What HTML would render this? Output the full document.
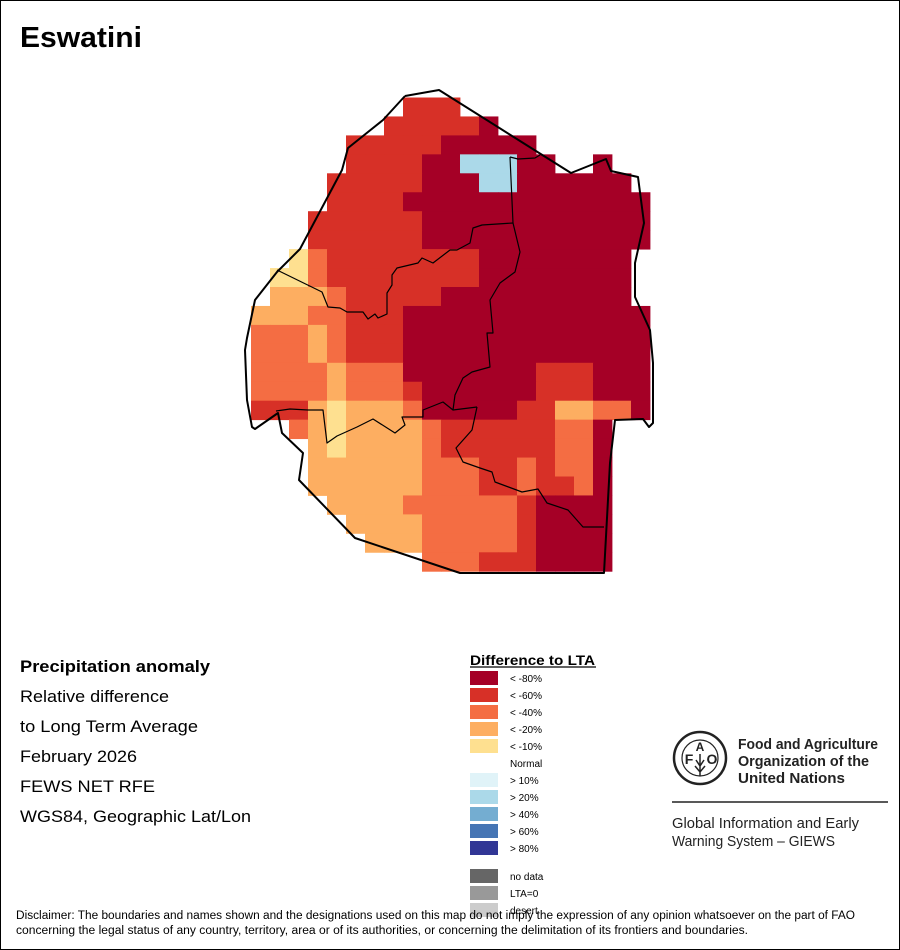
<!DOCTYPE html>
<html><head><meta charset="utf-8"><style>
html,body{margin:0;padding:0;background:#fff}
svg{display:block}
text{font-family:"Liberation Sans",Arial,sans-serif}
</style></head><body>
<svg id="s" width="900" height="950" viewBox="0 0 900 950" xmlns="http://www.w3.org/2000/svg">
<rect x="0.5" y="0.5" width="899" height="949" fill="#fff" stroke="#000" stroke-width="1"/>
<text x="20" y="47" font-size="29" font-weight="bold" textLength="122" lengthAdjust="spacingAndGlyphs">Eswatini</text>
<g id="grid"></g>
<g fill="none" stroke="#000" stroke-linejoin="round">
<polyline stroke-width="2" points="405,96 439,90 571,173 606,159 611,171 638,177 644,223 635,263 635,297 650,330 653,363 653,423 649,427 643,419 615,420 610,463 604,573 460,573 355,538 299,480 303,453 282,433 278,413 255,429 252,427 247,400 245,350 247,338 255,300 277,272 300,249 342,170 348,148 383,120 405,96"/>
<polyline stroke-width="1.2" points="510,157 518,159 535,158 540,155"/>
<polyline stroke-width="1.2" points="510,157 513,223 520,252 515,272 500,283 490,300 493,333 487,333 490,367 472,372 463,378 455,395 453,410"/>
<polyline stroke-width="1.2" points="513,223 482,225 473,228 470,243 457,250 450,250 433,263 422,258 418,263 397,268 392,275 392,285 387,293 387,314 378,318 375,314 368,319 363,312 347,312 340,308 328,307 322,292 277,270"/>
<polyline stroke-width="1.2" points="477,407 453,410 443,402 423,410 423,417 402,417 405,425 395,433 373,419 357,427 337,436 327,443 323,410 308,410 290,409 276,411"/>
<polyline stroke-width="1.2" points="477,407 472,430 456,448 463,462 480,468 492,472 495,482 522,492 538,489 547,503 568,510 583,527 604,527"/>
</g>
<text x="20" y="672" font-size="17" font-weight="bold" textLength="190" lengthAdjust="spacingAndGlyphs">Precipitation anomaly</text>
<text x="20" y="702" font-size="17" textLength="149" lengthAdjust="spacingAndGlyphs">Relative difference</text>
<text x="20" y="732" font-size="17" textLength="178" lengthAdjust="spacingAndGlyphs">to Long Term Average</text>
<text x="20" y="762" font-size="17" textLength="117" lengthAdjust="spacingAndGlyphs">February 2026</text>
<text x="20" y="792" font-size="17" textLength="135" lengthAdjust="spacingAndGlyphs">FEWS NET RFE</text>
<text x="20" y="822" font-size="17" textLength="231" lengthAdjust="spacingAndGlyphs">WGS84, Geographic Lat/Lon</text>
<text x="470" y="665" font-size="14" font-weight="bold" textLength="125" lengthAdjust="spacingAndGlyphs">Difference to LTA</text>
<line x1="470" y1="667" x2="596" y2="667" stroke="#000" stroke-width="1.3"/>
<g id="leg" font-size="10"></g>
<g transform="translate(672,730)">
<circle cx="28" cy="28" r="26" fill="none" stroke="#222" stroke-width="2.5"/>
<circle cx="28" cy="28" r="18" fill="none" stroke="#222" stroke-width="1.2"/>
<text x="17" y="34" font-size="14" font-weight="bold" text-anchor="middle" fill="#222">F</text>
<text x="28" y="21" font-size="12" font-weight="bold" text-anchor="middle" fill="#222">A</text>
<text x="40" y="34" font-size="14" font-weight="bold" text-anchor="middle" fill="#222">O</text>
<path d="M28 24 L28 46 M24 30 L28 36 L32 30 M23 36 L28 42 L33 36" stroke="#222" stroke-width="1.5" fill="none"/>
<text x="66" y="19" font-size="14.5" font-weight="bold" fill="#222" textLength="140" lengthAdjust="spacingAndGlyphs">Food and Agriculture</text>
<text x="66" y="36" font-size="14.5" font-weight="bold" fill="#222" textLength="131" lengthAdjust="spacingAndGlyphs">Organization of the</text>
<text x="66" y="53" font-size="14.5" font-weight="bold" fill="#222" textLength="107" lengthAdjust="spacingAndGlyphs">United Nations</text>
</g>
<line x1="672" y1="802" x2="888" y2="802" stroke="#222" stroke-width="1.5"/>
<text x="672" y="828" font-size="14.5" fill="#222" textLength="187" lengthAdjust="spacingAndGlyphs">Global Information and Early</text>
<text x="672" y="846" font-size="14.5" fill="#222" textLength="163" lengthAdjust="spacingAndGlyphs">Warning System – GIEWS</text>
<text x="16" y="919" font-size="11.5" textLength="839" lengthAdjust="spacingAndGlyphs">Disclaimer: The boundaries and names shown and the designations used on this map do not imply the expression of any opinion whatsoever on the part of FAO</text>
<text x="16" y="934" font-size="11.5" textLength="732" lengthAdjust="spacingAndGlyphs">concerning the legal status of any country, territory, area or of its authorities, or concerning the delimitation of its frontiers and boundaries.</text>
</svg>
<script>
var C={D:"#a50026",R:"#d73027",O:"#f46d43",L:"#fdae61",Y:"#fee090",B:"#abd9e9"};
var rows=["........RRR..........",".......RRRRRD........",".....RRRRRDDDDD......",".....RRRRDDBBBDD..D..","....RRRRRDDDBBDDDDDD.","....RRRRDDDDDDDDDDDDD","...RRRRRRDDDDDDDDDDDD","...RRRRRRDDDDDDDDDDDD","..YORRRRRRRRDDDDDDDD.",".YYORRRRRRRRDDDDDDDD.",".LLLORRRRRDDDDDDDDDD.","LLLOORRRDDDDDDDDDDDDD","OOOLORRRDDDDDDDDDDDDD","OOOLORRRDDDDDDDDDDDDD","OOOOLOOODDDDDDDRRRDDD","OOOOLOOORDDDDDDRRRDDD","RRRLYLLLODDDDDRRLLOOD","..OLYLLLLORRRRRROOD..","...LYLLLLORRRRRROOD..","...LLLLLLOOORROROOD..","...LLLLLLOOORRORROD..","....LLLLOOOOOORDDDD..",".....LLLLOOOOORDDDD..","......LLLOOOOORDDDD..",".........OOORRRDDDD.."];
var ns="http://www.w3.org/2000/svg",g=document.getElementById("grid");
rows.forEach(function(r,i){for(var j=0;j<r.length;j++){var c=r[j];if(c==".")continue;var e=document.createElementNS(ns,"rect");e.setAttribute("x",251+19*j);e.setAttribute("y",(97.5+18.95*i).toFixed(2));e.setAttribute("width",19.4);e.setAttribute("height",19.4);e.setAttribute("fill",C[c]);g.appendChild(e);}});
var L=[["#a50026","< -80%",671],["#d73027","< -60%",688],["#f46d43","< -40%",705],["#fdae61","< -20%",722],["#fee090","< -10%",739],[null,"Normal",756],["#e0f3f8","> 10%",773],["#abd9e9","> 20%",790],["#74add1","> 40%",807],["#4575b4","> 60%",824],["#313695","> 80%",841],["#666666","no data",869],["#999999","LTA=0",886],["#cccccc","desert",903]];
var lg=document.getElementById("leg");
L.forEach(function(a){if(a[0]){var e=document.createElementNS(ns,"rect");e.setAttribute("x",470);e.setAttribute("y",a[2]);e.setAttribute("width",28);e.setAttribute("height",14);e.setAttribute("fill",a[0]);lg.appendChild(e);}var t=document.createElementNS(ns,"text");t.setAttribute("x",510);t.setAttribute("y",a[2]+11);t.textContent=a[1];lg.appendChild(t);});
</script>
</body></html>
